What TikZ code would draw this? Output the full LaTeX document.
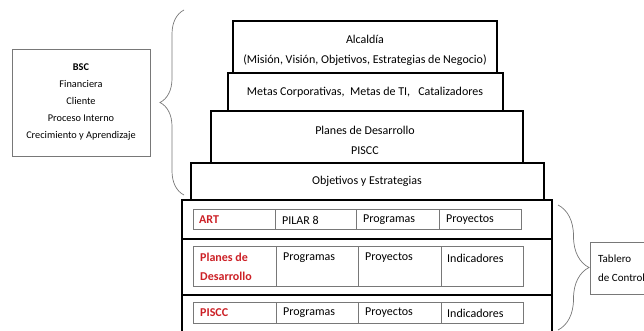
\documentclass[tikz,border=0pt]{standalone}
\usepackage{fontspec}
\setmainfont{Carlito}
\usetikzlibrary{decorations.pathreplacing}
\definecolor{artred}{RGB}{204,32,38}
\definecolor{linegray}{RGB}{120,120,120}
\tikzset{
	pyrbox/.style={draw=black, line width=1.3pt},
	cellbox/.style={draw=linegray, line width=0.7pt},
	thinbox/.style={draw=linegray, line width=0.7pt},
	curly/.style={draw=linegray, line width=0.7pt, decorate, decoration={brace, amplitude=#1}},
	txt/.style={font=\fontsize{12}{20}\selectfont, inner sep=0pt, align=center},
	celltxt/.style={font=\fontsize{12}{19}\selectfont, inner sep=0pt, anchor=west, align=left},
	redtxt/.style={celltxt, text=artred, font=\fontsize{12}{19}\selectfont\bfseries}
}

\begin{document}
\begin{tikzpicture}[x=1pt,y=-1pt]
		%%%%% START %%%%%
		\useasboundingbox (0,0) rectangle (644,331);
		
		\draw[thinbox] (12,49) rectangle (150,156);
		\node[txt, font=\fontsize{10.3}{17}\selectfont] (bsc) at (81,102) {\textbf{BSC}\\Financiera\\Cliente\\Proceso Interno\\Crecimiento y Aprendizaje};
		\draw[curly=24] (184,195) -- (184,10);
		
		\draw[pyrbox] (233,21) rectangle (497,73);
		\node[txt] (alcaldia) at (365,50) {Alcaldía\\(Misión, Visión, Objetivos, Estrategias de Negocio)};
		
		\draw[pyrbox] (228,73) rectangle (503,111);
		\node[txt] (metas) at (365,92) {Metas Corporativas,\ \ Metas de TI,\ \ \ Catalizadores};
		
		\draw[pyrbox] (211,111) rectangle (523,163);
		\node[txt] (planes) at (365,140) {Planes de Desarrollo\\PISCC};
		
		\draw[pyrbox] (191,163) rectangle (544,200);
		\node[txt] (objetivos) at (367,181) {Objetivos y Estrategias};
		
		\draw[pyrbox] (182,200) rectangle (552,340);
		\draw[pyrbox] (182,239) -- (552,239);
		\draw[pyrbox] (182,295) -- (552,295);
		
		\draw[cellbox] (193,209) rectangle (521,229);
		\foreach \x in {275,356,439} \draw[cellbox] (\x,209) -- (\x,229);
		\node[redtxt] (art) at (199,220) {ART};
		\node[celltxt] (pilar) at (282,220) {PILAR 8};
		\node[celltxt] (artprog) at (363,220) {Programas};
		\node[celltxt] (artproy) at (446,220) {Proyectos};
		
		\draw[cellbox] (193,246) rectangle (523,286);
		\foreach \x in {276,358,441} \draw[cellbox] (\x,246) -- (\x,286);
		\node[redtxt] (pdd) at (200,267) {Planes de\\Desarrollo};
		\node[celltxt] (pddprog) at (283,258) {Programas};
		\node[celltxt] (pddproy) at (365,258) {Proyectos};
		\node[celltxt] (pddind) at (447,258) {Indicadores};
		
		\draw[cellbox] (193,302) rectangle (523,323);
		\foreach \x in {276,358,441} \draw[cellbox] (\x,302) -- (\x,323);
		\node[redtxt] (piscc) at (200,313) {PISCC};
		\node[celltxt] (pisccprog) at (283,313) {Programas};
		\node[celltxt] (pisccproy) at (365,313) {Proyectos};
		\node[celltxt] (pisccind) at (447,313) {Indicadores};
		
		\draw[curly=31] (558,205) -- (558,330);
		\draw[thinbox] (590,242) rectangle (670,294);
		\node[celltxt, font=\fontsize{11}{19}\selectfont] (tablero) at (598,268) {Tablero\\de Control};
		%%%%% END %%%%%
\end{tikzpicture}
\end{document}
